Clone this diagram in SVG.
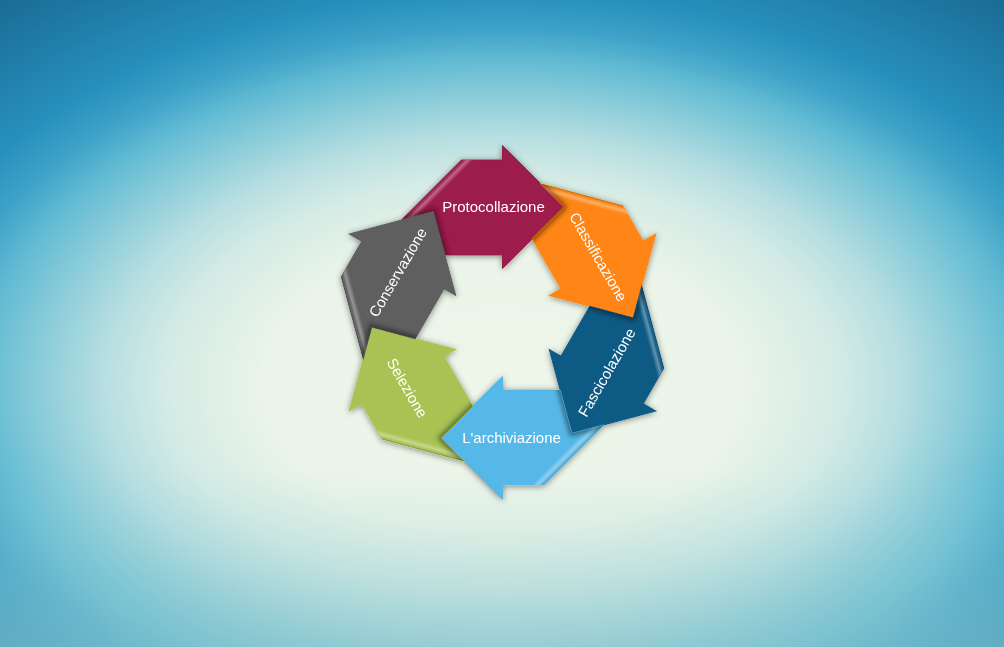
<svg xmlns="http://www.w3.org/2000/svg" xmlns:xlink="http://www.w3.org/1999/xlink" width="1004" height="647" viewBox="0 0 1004 647">
<defs>
  <radialGradient id="bg" gradientUnits="userSpaceOnUse" cx="502" cy="385" r="500" gradientTransform="translate(502 385) scale(1.6 1) translate(-502 -385)">
    <stop offset="0" stop-color="#EFF6EA"/>
    <stop offset="0.3" stop-color="#EAF4E8"/>
    <stop offset="0.42" stop-color="#D4EBE5"/>
    <stop offset="0.5" stop-color="#B6DEE1"/>
    <stop offset="0.58" stop-color="#8ACCD9"/>
    <stop offset="0.65" stop-color="#62BBD3"/>
    <stop offset="0.71" stop-color="#3FA3C8"/>
    <stop offset="0.78" stop-color="#2790BC"/>
    <stop offset="1" stop-color="#196A93"/>
  </radialGradient>
  <linearGradient id="bottomTint" x1="0" y1="0" x2="0" y2="1">
    <stop offset="0" stop-color="#A8D8D8" stop-opacity="0"/>
    <stop offset="1" stop-color="#8CC6CC" stop-opacity="0.6"/>
  </linearGradient>
  <linearGradient id="bevel" gradientUnits="userSpaceOnUse" x1="-71" y1="-132.5" x2="-63.93" y2="-125.43">
    <stop offset="0" stop-color="#000" stop-opacity="0.3"/>
    <stop offset="0.2" stop-color="#fff" stop-opacity="0.05"/>
    <stop offset="0.42" stop-color="#fff" stop-opacity="0.35"/>
    <stop offset="0.85" stop-color="#fff" stop-opacity="0"/>
  </linearGradient>
  <polygon id="arm" points="0,-177 61.5,-115.5 0,-54 0,-67.5 -57.62,-67.5 -69.28,-111.01 -100.98,-102.51 -41,-162.5 0,-162.5"/>
  <clipPath id="armClip"><use href="#arm" xlink:href="#arm"/></clipPath>
  <filter id="soft" x="-30%" y="-30%" width="160%" height="160%">
    <feGaussianBlur stdDeviation="2.5"/>
  </filter>
  <filter id="outer" x="-10%" y="-10%" width="120%" height="120%">
    <feGaussianBlur in="SourceAlpha" stdDeviation="3" result="b"/>
    <feOffset in="b" dx="0" dy="1" result="o"/>
    <feFlood flood-color="#000" flood-opacity="0.45"/>
    <feComposite in2="o" operator="in" result="s"/>
    <feComposite in="s" in2="SourceAlpha" operator="out" result="so"/>
    <feMerge><feMergeNode in="so"/><feMergeNode in="SourceGraphic"/></feMerge>
  </filter>
  <style>
    .lbl { font-family: "Liberation Sans", Arial, sans-serif; font-size: 15px; fill: #ffffff; text-anchor: middle; }
    .tail { fill: none; stroke: #000; stroke-opacity: 0.5; stroke-width: 5; }
    .bev { fill: url(#bevel); }
  </style>
</defs>

<rect x="0" y="0" width="1004" height="647" fill="url(#bg)"/>
<rect x="0" y="470" width="1004" height="177" fill="url(#bottomTint)"/>

<g id="cycle" filter="url(#outer)">
  <g id="protocollazione" transform="translate(502.5 322.5) rotate(0)">
    <use href="#arm" xlink:href="#arm" fill="#9C1A4B" stroke="#9C1A4B" stroke-width="1"/>
    <use href="#arm" xlink:href="#arm" class="bev"/>
    <polyline class="tail" points="-46.77,-27 -69.28,-111.01 -153.29,-88.5" clip-path="url(#armClip)" filter="url(#soft)"/>
    <text class="lbl" transform="translate(-9 -115.5)" x="0" y="5">Protocollazione</text>
  </g>
  <g id="classificazione" transform="translate(502.5 322.5) rotate(60)">
    <use href="#arm" xlink:href="#arm" fill="#FE8513" stroke="#FE8513" stroke-width="1"/>
    <use href="#arm" xlink:href="#arm" class="bev"/>
    <polyline class="tail" points="-46.77,-27 -69.28,-111.01 -153.29,-88.5" clip-path="url(#armClip)" filter="url(#soft)"/>
    <text class="lbl" transform="translate(-9 -115.5)" x="0" y="5">Classificazione</text>
  </g>
  <g id="fascicolazione" transform="translate(502.5 322.5) rotate(120)">
    <use href="#arm" xlink:href="#arm" fill="#0E5A84" stroke="#0E5A84" stroke-width="1"/>
    <use href="#arm" xlink:href="#arm" class="bev"/>
    <polyline class="tail" points="-46.77,-27 -69.28,-111.01 -153.29,-88.5" clip-path="url(#armClip)" filter="url(#soft)"/>
    <text class="lbl" transform="translate(-9 -115.5) rotate(180)" x="0" y="5">Fascicolazione</text>
  </g>
  <g id="archiviazione" transform="translate(502.5 322.5) rotate(180)">
    <use href="#arm" xlink:href="#arm" fill="#56B8E8" stroke="#56B8E8" stroke-width="1"/>
    <use href="#arm" xlink:href="#arm" class="bev"/>
    <polyline class="tail" points="-46.77,-27 -69.28,-111.01 -153.29,-88.5" clip-path="url(#armClip)" filter="url(#soft)"/>
    <text class="lbl" transform="translate(-9 -115.5) rotate(180)" x="0" y="5">L'archiviazione</text>
  </g>
  <g id="selezione" transform="translate(502.5 322.5) rotate(240)">
    <use href="#arm" xlink:href="#arm" fill="#A8C352" stroke="#A8C352" stroke-width="1"/>
    <use href="#arm" xlink:href="#arm" class="bev"/>
    <polyline class="tail" points="-46.77,-27 -69.28,-111.01 -153.29,-88.5" clip-path="url(#armClip)" filter="url(#soft)"/>
    <text class="lbl" transform="translate(-9 -115.5) rotate(180)" x="0" y="5">Selezione</text>
  </g>
  <g id="conservazione" transform="translate(502.5 322.5) rotate(300)">
    <use href="#arm" xlink:href="#arm" fill="#5E5E60" stroke="#5E5E60" stroke-width="1"/>
    <use href="#arm" xlink:href="#arm" class="bev"/>
    <polyline class="tail" points="-46.77,-27 -69.28,-111.01 -153.29,-88.5" clip-path="url(#armClip)" filter="url(#soft)"/>
    <text class="lbl" transform="translate(-9 -115.5)" x="0" y="5">Conservazione</text>
  </g>
</g>
<g id="connectors"></g>
</svg>
